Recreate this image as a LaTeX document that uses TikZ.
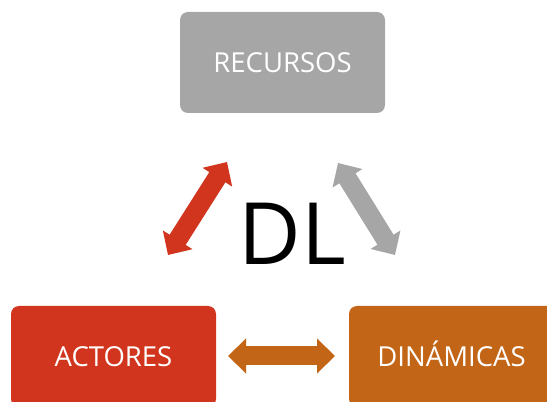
\documentclass[tikz,border=0pt]{standalone}
\usepackage{fontspec}
\setmainfont{Open Sans}
\usetikzlibrary{arrows.meta}
\definecolor{gris}{HTML}{A6A6A6}
\definecolor{rojo}{HTML}{D1351D}
\definecolor{naranja}{HTML}{C36516}
\tikzset{
  caja/.style={rounded corners=8pt, minimum width=205pt, minimum height=101pt,
    inner sep=0pt, text=white, text height=19.5pt, text depth=0pt,
    font=\fontsize{27.5}{32}\selectfont},
  flecha/.style={line width=19pt, {Triangle[length=18pt,width=34pt]}-{Triangle[length=18pt,width=34pt]}}
}
\begin{document}
\begin{tikzpicture}[x=10pt, y=10pt, line join=miter]
            \useasboundingbox (0,0) rectangle (54.7,40.2);
            \node[caja, fill=gris] (recursos) at (28.25,33.95) {RECURSOS};
            \node[caja, fill=rojo] (actores) at (11.35,4.55) {ACTORES};
            \node[caja, fill=naranja] (dinamicas) at (45.15,4.55) {DINÁMICAS};
            \node[font=\fontsize{86}{96}\selectfont] (dl) at (29.2,16.8) {DL};
            \coordinate (ra) at (16.8,14.7);
            \coordinate (rb) at (22.7,24.0);
            \coordinate (ga) at (33.8,23.9);
            \coordinate (gb) at (39.5,14.7);
            \coordinate (na) at (22.8,4.6);
            \coordinate (nb) at (33.5,4.6);
            \draw[flecha, rojo] (ra) -- (rb);
            \draw[flecha, gris] (ga) -- (gb);
            \draw[flecha, naranja] (na) -- (nb);
        \end{tikzpicture}
\end{document}
